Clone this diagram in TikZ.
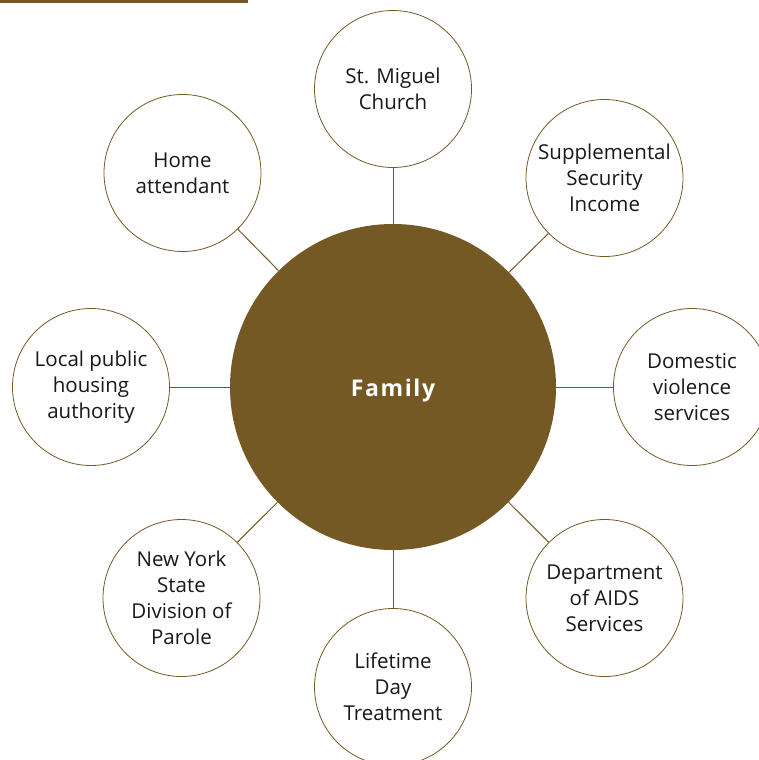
\documentclass[tikz,border=0pt]{standalone}
\usepackage{fontspec}
\setmainfont{Open Sans}
\usetikzlibrary{positioning}

\definecolor{famBrown}{RGB}{117,89,37}

\begin{document}
\begin{tikzpicture}[x=1pt,y=-1pt,
	agency/.style={draw=famBrown, line width=0.8pt, circle, fill=white,
		minimum size=157pt, inner sep=0pt, align=center,
		font=\fontsize{20.5}{26}\selectfont, text=black!90},
	link/.style={draw=famBrown, line width=1pt}]

	\useasboundingbox (0,0) rectangle (759,760);

%barra superior
	\fill[famBrown] (0,0) rectangle (248,3.3);

%centro
	\node[circle, fill=famBrown, minimum size=326pt, inner sep=0pt,
		text height=18pt, text depth=0pt,
		font=\fontsize{23}{26}\selectfont\bfseries\addfontfeatures{LetterSpace=7},
		text=white] (family) at (393,387) {Family};

%agencias
	\node[agency] (church)   at (393,89)    {St. Miguel\\Church};
	\node[agency] (ssi)      at (604.5,178) {Supplemental\\Security\\Income};
	\node[agency] (domestic) at (692,387)   {Domestic\\violence\\services};
	\node[agency] (aids)     at (604.5,598) {Department\\of AIDS\\Services};
	\node[agency] (lifetime) at (393,687)   {Lifetime\\Day\\Treatment};
	\node[agency] (parole)   at (181.5,598) {New York\\State\\Division of\\Parole};
	\node[agency] (housing)  at (91,387)    {Local public\\housing\\authority};
	\node[agency] (home)     at (182.5,173) {Home\\attendant};

%lineas
	\foreach \a in {church,ssi,domestic,aids,lifetime,parole,housing,home}
		\draw[link] (family) -- (\a);
\end{tikzpicture}
\end{document}
